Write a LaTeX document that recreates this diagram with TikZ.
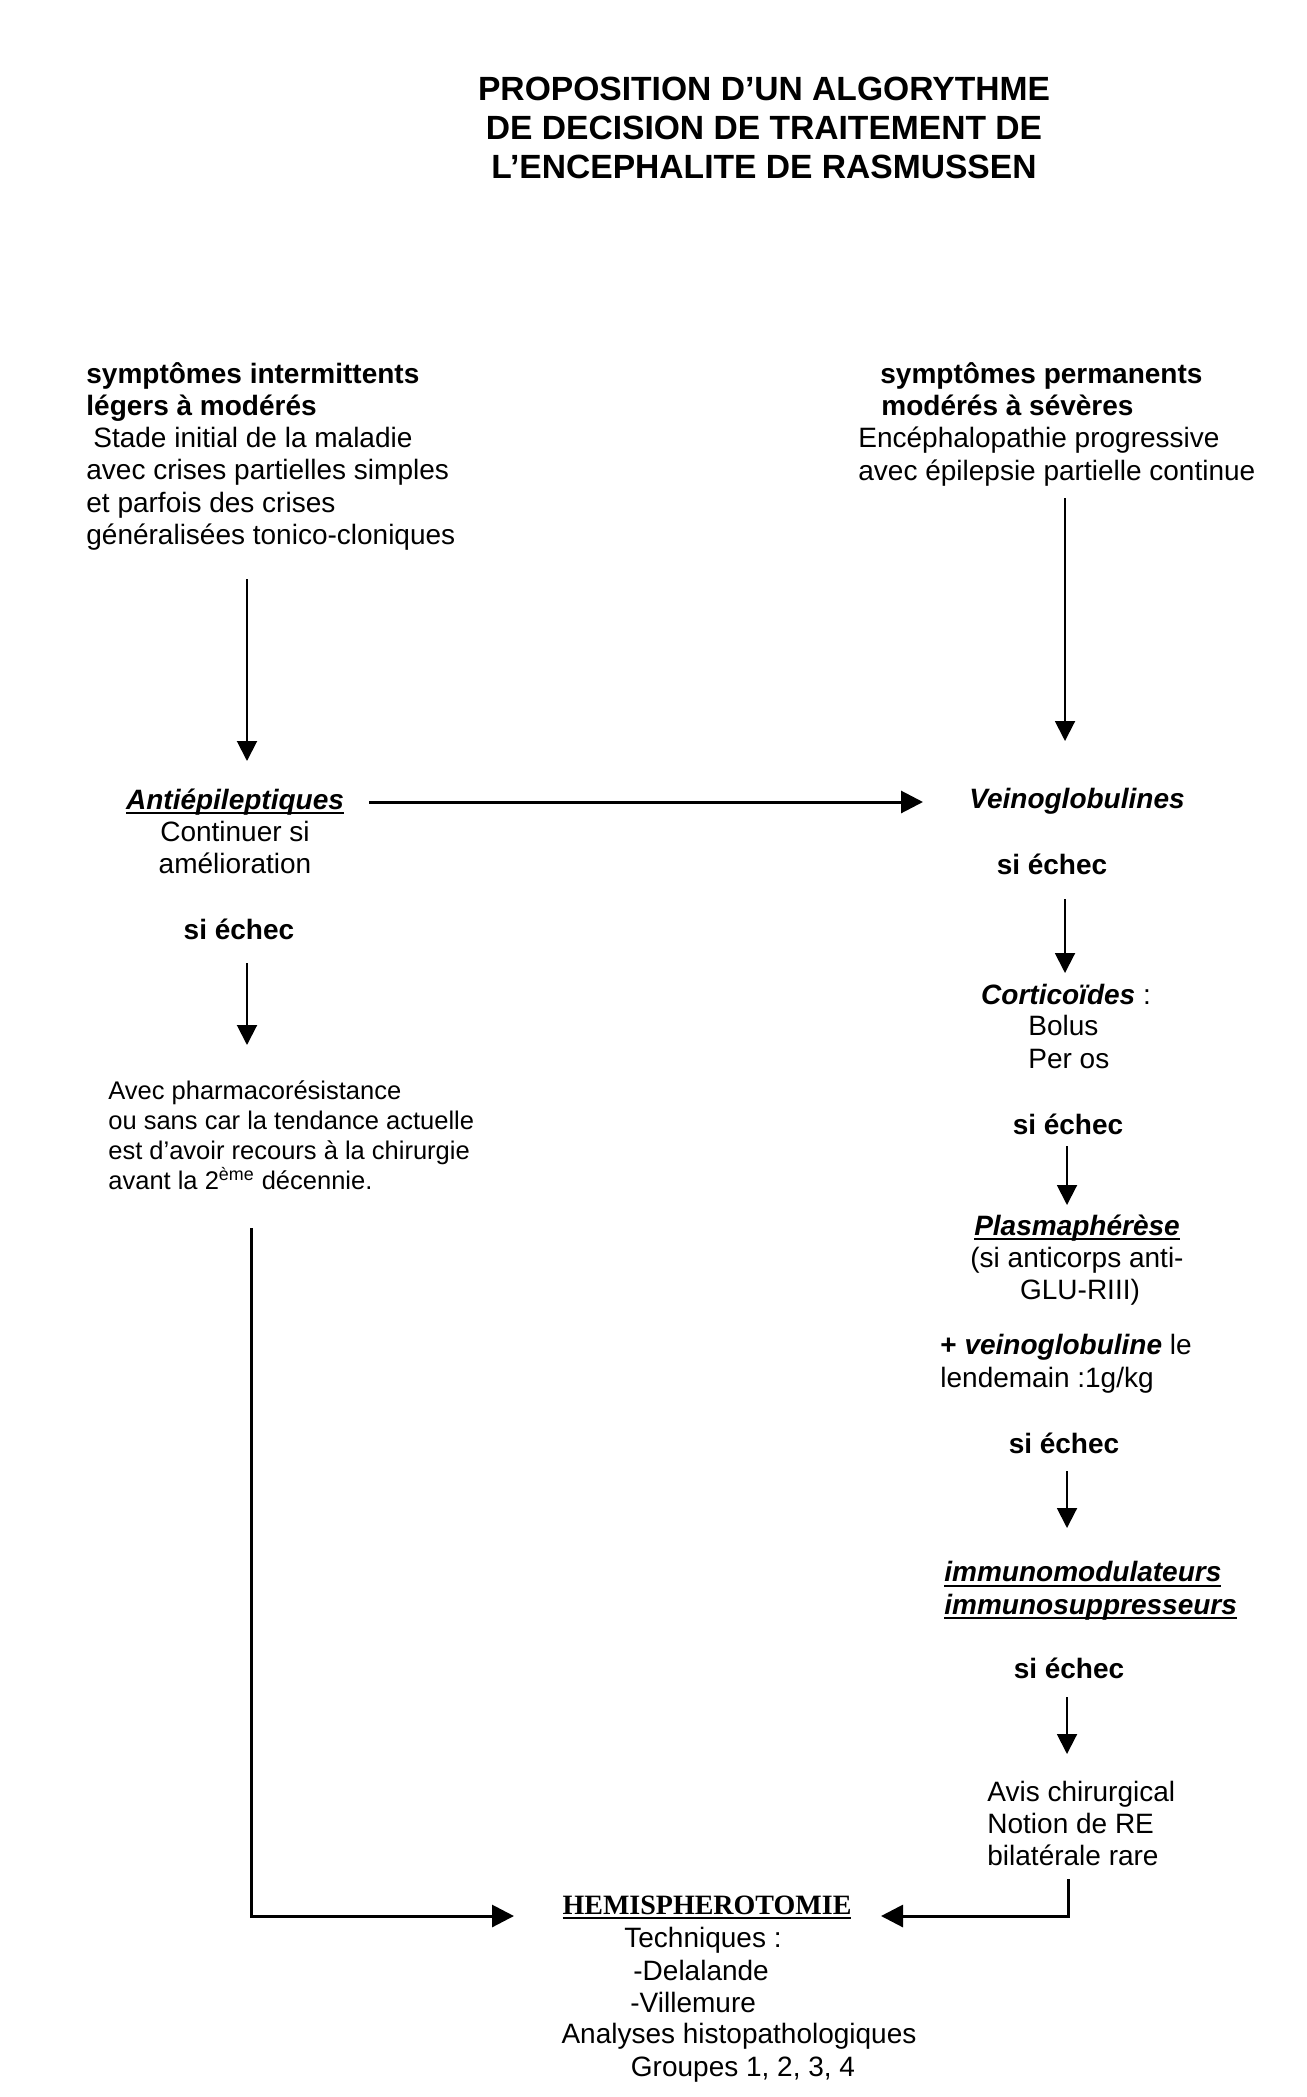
\documentclass[tikz,border=0pt]{standalone}
\usepackage{fontspec}
\setmainfont{Liberation Sans}
\newfontfamily\timesf{Liberation Serif}
\usetikzlibrary{arrows.meta}
\newcommand\myul[1]{\leavevmode\setbox0\hbox{#1}\rlap{\raisebox{-2.6pt}{\rule{\wd0}{1.1pt}}}\box0}
\begin{document}
\begin{tikzpicture}[x=0.5pt,y=-0.5pt,
  txt/.style={inner sep=0pt, font=\fontsize{14}{16.15}\selectfont},
  small/.style={inner sep=0pt, font=\fontsize{12.75}{14.85}\selectfont},
  ttl/.style={inner sep=0pt, font=\fontsize{16.8}{19.5}\selectfont\bfseries},
  conn/.style={line width=1pt, -{Triangle[length=10pt,width=10pt]}},
  hconn/.style={line width=1.5pt, -{Triangle[length=11pt,width=11pt]}}]
\useasboundingbox[fill=white] (0,0) rectangle (1306,2097);

% multi-line nodes: base anchor = baseline of the last line
\node[ttl, align=center, anchor=base] (title) at (764,179)
  {PROPOSITION D’UN ALGORYTHME\\DE DECISION DE TRAITEMENT DE\\L’ENCEPHALITE DE RASMUSSEN};

\node[txt, align=left, anchor=base west] (lefttop) at (86,544.5)
  {\textbf{symptômes intermittents}\\\textbf{légers à modérés}\\\hspace{3.5pt}Stade initial de la maladie\\avec crises partielles simples\\et parfois des crises\\généralisées tonico-cloniques};

\node[txt, align=left, anchor=base west] (righttop) at (858,480)
  {\hspace{11pt}\textbf{symptômes permanents}\\\hspace{11.5pt}\textbf{modérés à sévères}\\Encéphalopathie progressive\\avec épilepsie partielle continue};

\node[txt, align=center, anchor=base] (antiep) at (235,873.6)
  {\myul{\textbf{\textit{Antiépileptiques}}}\\Continuer si\\amélioration};
\node[txt, anchor=base] (veino) at (1077,808) {\textbf{\textit{Veinoglobulines}}};

\node[txt, anchor=base] (echecL) at (239,939) {\textbf{si échec}};
\node[small, align=left, anchor=base west] (pharma) at (108,1189)
  {Avec pharmacorésistance\\ou sans car la tendance actuelle\\est d’avoir recours à la chirurgie\\avant la 2\textsuperscript{ème} décennie.};

\node[txt, anchor=base] (echec1) at (1052,874) {\textbf{si échec}};
\node[txt, anchor=base] (cort) at (1066,1004) {\textbf{\textit{Corticoïdes}} :};
\node[txt, align=left, anchor=base west] (bolus) at (1028,1068) {Bolus\\Per os};
\node[txt, anchor=base] (echec2) at (1068,1134) {\textbf{si échec}};
\node[txt, align=center, anchor=base] (plasma) at (1077,1299.6)
  {\myul{\textbf{\textit{Plasmaphérèse}}}\\(si anticorps anti-\\\hspace{3pt}GLU-RIII)};
\node[txt, align=left, anchor=base west] (veino2) at (940,1387)
  {\textbf{+ \textit{veinoglobuline}} le\\lendemain :1g/kg};
\node[txt, anchor=base] (echec3) at (1064,1453) {\textbf{si échec}};
\node[txt, align=left, anchor=base west] (immuno) at (944,1614)
  {\myul{\textbf{\textit{immunomodulateurs}}}\\\myul{\textbf{\textit{immunosuppresseurs}}}};
\node[txt, anchor=base] (echec4) at (1069,1678) {\textbf{si échec}};
\node[txt, align=left, anchor=base west] (avis) at (987,1865.6)
  {Avis chirurgical\\Notion de RE\\bilatérale rare};

\node[txt, anchor=base] (hemi) at (707,1914) {\timesf\bfseries\myul{HEMISPHEROTOMIE}};
\node[txt, anchor=base] (tech) at (703,1947) {Techniques :};
\node[txt, anchor=base west] (dela) at (633,1980) {-Delalande};
\node[txt, anchor=base west] (ville) at (630,2012) {-Villemure};
\node[txt, anchor=base] (analy) at (739,2043) {Analyses histopathologiques};
\node[txt, anchor=base] (grp) at (743,2076) {Groupes 1, 2, 3, 4};

% connector end points
\coordinate (a1s) at (247,579);  \coordinate (a1e) at (247,761);
\coordinate (b1s) at (1065,498); \coordinate (b1e) at (1065,741);
\coordinate (hs) at (369,802);   \coordinate (he) at (923,802);
\coordinate (a2s) at (247,963);  \coordinate (a2e) at (247,1045);
\coordinate (b2s) at (1065,899); \coordinate (b2e) at (1065,973);
\coordinate (b3s) at (1067,1146); \coordinate (b3e) at (1067,1205);
\coordinate (b4s) at (1067,1471); \coordinate (b4e) at (1067,1528);
\coordinate (b5s) at (1067,1697); \coordinate (b5e) at (1067,1754);
\coordinate (ls) at (251,1228);  \coordinate (lt) at (514,1916);
\coordinate (rs) at (1068,1879); \coordinate (rt) at (881,1916);

\draw[conn] (a1s) -- (a1e);
\draw[conn] (b1s) -- (b1e);
\draw[hconn] (hs) -- (he);
\draw[conn] (a2s) -- (a2e);
\draw[conn] (b2s) -- (b2e);
\draw[conn] (b3s) -- (b3e);
\draw[conn] (b4s) -- (b4e);
\draw[conn] (b5s) -- (b5e);
\draw[hconn] (ls) |- (lt);
\draw[hconn] (rs) |- (rt);
\end{tikzpicture}
\end{document}
